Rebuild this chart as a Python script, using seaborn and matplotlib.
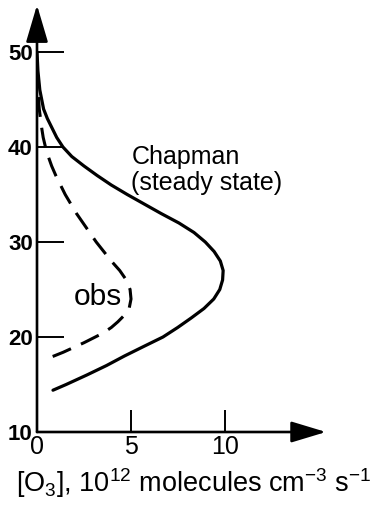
import matplotlib
matplotlib.use("Agg")
import matplotlib.pyplot as plt
import seaborn as sns
import pandas as pd

sns.set_style("white")
plt.rcParams["font.family"] = ["Liberation Sans", "DejaVu Sans"]
plt.rcParams["text.color"] = "black"
plt.rcParams["mathtext.fontset"] = "custom"
plt.rcParams["mathtext.rm"] = "Liberation Sans"
plt.rcParams["mathtext.it"] = "Liberation Sans:italic"
plt.rcParams["mathtext.default"] = "regular"

# Ozone production profiles: rate (1e12 molecules cm-3 s-1) vs altitude (km)
chapman_rate = [0.0, 0.05, 0.15, 0.35, 0.55, 0.8, 1.05, 1.38, 1.85, 2.5, 3.2, 3.95,
                4.8, 5.7, 6.6, 7.55, 8.35, 8.95, 9.42, 9.75, 9.9, 9.87, 9.72, 9.4,
                8.88, 8.2, 7.48, 6.7, 5.67, 4.65, 3.7, 2.65, 1.55, 0.85]
chapman_alt = [50.0, 48.0, 46.0, 44.0, 43.0, 42.0, 41.0, 40.0, 39.0, 38.0, 37.0, 36.0,
               35.0, 34.0, 33.0, 32.0, 31.0, 30.0, 29.0, 28.0, 27.0, 26.0, 25.0, 24.0,
               23.0, 22.0, 21.0, 20.0, 19.0, 18.0, 17.0, 16.0, 15.0, 14.4]

obs_rate = [0.0, 0.05, 0.12, 0.25, 0.33, 0.45, 0.6, 0.78, 1.0, 1.25, 1.5, 1.8, 2.1,
            2.45, 2.8, 3.15, 3.55, 3.95, 4.4, 4.75, 4.95, 5.0, 4.9, 4.65, 4.3, 3.95,
            3.5, 3.0, 2.5, 1.95, 1.4, 0.9, 0.45]
obs_alt = [48.5, 46.0, 44.0, 42.0, 41.0, 40.0, 39.0, 38.0, 37.0, 36.0, 35.0, 34.0, 33.0,
           32.0, 31.0, 30.0, 29.0, 28.0, 27.0, 26.0, 25.0, 24.0, 23.0, 22.3, 21.6, 21.0,
           20.4, 19.9, 19.4, 18.9, 18.4, 18.0, 17.7]

x_ticks = [0, 5, 10]
y_ticks = [10, 20, 30, 40, 50]

chapman = pd.DataFrame({"rate": chapman_rate, "alt": chapman_alt})
obs = pd.DataFrame({"rate": obs_rate, "alt": obs_alt})

fig = plt.figure(figsize=(3.73, 5.13), dpi=100)
ax = fig.add_axes([37 / 373, 81 / 513, 289 / 373, 427 / 513])

sns.lineplot(data=chapman, x="rate", y="alt", sort=False, estimator=None,
             color="black", lw=2.3, ax=ax)
sns.lineplot(data=obs, x="rate", y="alt", sort=False, estimator=None,
             color="black", lw=2.2, ax=ax)
ax.lines[0].set_solid_joinstyle("round")
ax.lines[-1].set_linestyle((0, (6.5, 3.6)))
ax.lines[-1].set_dash_capstyle("butt")

ax.set_xlim(0, 15.37)
ax.set_ylim(10, 54.95)
for s in ax.spines.values():
    s.set_visible(False)

# axes drawn as arrows
ax.annotate("", xy=(0, 54.95), xytext=(0, 10),
            arrowprops=dict(arrowstyle="-|>,head_length=23,head_width=6.8",
                            mutation_scale=1, lw=1.9, color="black",
                            shrinkA=0, shrinkB=0))
ax.annotate("", xy=(15.37, 10), xytext=(0, 10),
            arrowprops=dict(arrowstyle="-|>,head_length=21.5,head_width=6.5",
                            mutation_scale=1, lw=1.9, color="black",
                            shrinkA=0, shrinkB=0))

ax.set_xticks(x_ticks)
ax.set_yticks(y_ticks)
ax.set_xticklabels([str(v) for v in x_ticks], fontsize=18)
ax.set_yticklabels([str(v) for v in y_ticks], fontsize=16, fontweight="bold")
ax.tick_params(axis="y", direction="in", length=19.5, width=1.4, pad=3,
               left=True, colors="black")
ax.tick_params(axis="x", direction="in", length=16, width=1.4, pad=2,
               bottom=True, colors="black")
ax.set_xlabel("")
ax.set_ylabel("")

ax.text(5.05, 38.2, "Chapman", fontsize=18, va="baseline", ha="left", color="black")
ax.text(5.0, 35.5, "(steady state)", fontsize=18, va="baseline", ha="left", color="black")
ax.text(1.97, 23.4, "obs", fontsize=21.5, va="baseline", ha="left", color="black")

fig.text(194 / 373, 21 / 513,
         r"[O$_3$], 10$^{12}$ molecules cm$^{-3}$ s$^{-1}$",
         fontsize=19.5, ha="center", va="baseline", color="black")

fig.savefig("out.png", dpi=100)
